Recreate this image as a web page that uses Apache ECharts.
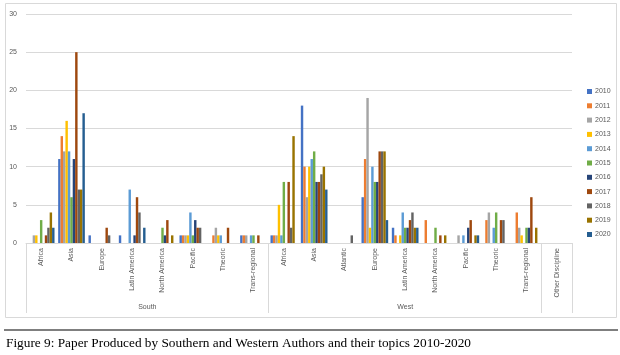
<!DOCTYPE html>
<html><head><meta charset="utf-8">
<script src="https://cdn.jsdelivr.net/npm/echarts@6/dist/echarts.min.js"></script>
<style>html,body{margin:0;padding:0;background:#fff}#c{width:620px;height:355px}</style>
</head><body><div id="c"></div>
<script>
const categories = ['Africa','Asia','Europe','Latin America','North America','Pacific','Theoric','Trans-regional','Africa','Asia','Atlantic','Europe','Latin America','North America','Pacific','Theoric','Trans-regional','Other Discipline'];
const groupLabels = ['South','West',''];
const groupSizes = [8,9,1];
const years = ['2010','2011','2012','2013','2014','2015','2016','2017','2018','2019','2020'];
const v2010 = [0,11,1,1,0,1,0,1, 1,18,0,6,2,0,0,0,0,0];
const v2011 = [0,14,0,0,0,1,1,1, 1,10,0,11,1,3,0,3,4,0];
const v2012 = [1,12,0,0,0,1,2,1, 1,6,0,19,0,0,1,4,2,0];
const v2013 = [1,16,0,0,0,1,1,0, 5,10,0,2,1,0,0,0,1,0];
const v2014 = [0,12,0,7,0,4,1,1, 1,11,0,10,4,0,1,2,0,0];
const v2015 = [3,6,0,0,2,1,0,1, 8,12,0,8,2,2,0,4,2,0];
const v2016 = [0,11,0,1,1,3,0,0, 0,8,0,8,2,0,2,0,2,0];
const v2017 = [1,25,2,6,3,2,2,1, 8,8,0,12,3,1,3,3,6,0];
const v2018 = [2,7,1,4,0,2,0,0, 2,9,1,12,4,0,0,3,0,0];
const v2019 = [4,7,0,0,1,0,0,0, 14,10,0,12,2,1,1,0,2,0];
const v2020 = [2,17,0,2,0,0,0,0, 0,7,0,3,2,0,1,0,0,0];
const values = [v2010,v2011,v2012,v2013,v2014,v2015,v2016,v2017,v2018,v2019,v2020];
const colors = ['#4472C4','#ED7D31','#A5A5A5','#FFC000','#5B9BD5','#70AD47','#264478','#9E480E','#636363','#997300','#255E91'];

// second-level axis: half-category boundaries
const nHalf = categories.length * 2;
const halfCats = [];
for (let k = 0; k <= nHalf; k++) halfCats.push(String(k));
const sepIdx = [0];
const labelIdx = {};
let acc = 0;
groupSizes.forEach((s, g) => {
  labelIdx[acc + s] = groupLabels[g];
  acc += s * 2;
  sepIdx.push(acc);
});

const chart = echarts.init(document.getElementById('c'), null, {renderer: 'canvas'});
const axisTxt = {color: '#595959', fontSize: 7, fontFamily: 'Liberation Sans, Arial, sans-serif'};
chart.setOption({
  animation: false,
  color: colors,
  grid: {left: 26, right: 48, top: 14, bottom: 112, containLabel: false},
  legend: {
    orient: 'vertical', left: 582, top: 83,
    itemWidth: 5, itemHeight: 5, itemGap: 7.3,
    icon: 'rect',
    textStyle: Object.assign({}, axisTxt, {padding: [0, 0, 0, -2]}),
    data: years
  },
  xAxis: [
    {
      type: 'category', data: categories, position: 'bottom',
      axisLine: {lineStyle: {color: '#d9d9d9'}},
      axisTick: {show: false},
      axisLabel: Object.assign({}, axisTxt, {rotate: 90, margin: 5, interval: 0})
    },
    {
      type: 'category', data: halfCats, position: 'bottom', boundaryGap: false,
      axisLine: {show: false},
      axisTick: {show: true, length: 70, interval: (i) => sepIdx.indexOf(i) >= 0, lineStyle: {color: '#d9d9d9'}},
      axisLabel: Object.assign({}, axisTxt, {margin: 61, interval: (i) => labelIdx[i] !== undefined, formatter: (v, i) => labelIdx[i] || ''})
    }
  ],
  yAxis: {
    type: 'value', min: 0, max: 30, interval: 5,
    axisLine: {show: false}, axisTick: {show: false},
    splitLine: {lineStyle: {color: '#d9d9d9'}},
    axisLabel: Object.assign({}, axisTxt, {margin: 9})
  },
  series: years.map((y, j) => ({
    name: y, type: 'bar', data: values[j], xAxisIndex: 0,
    barGap: '0%', barCategoryGap: '12%'
  })),
  graphic: [
    {type: 'rect', shape: {x: 5.5, y: 3.5, width: 611, height: 314}, style: {fill: 'none', stroke: '#d9d9d9', lineWidth: 1}, silent: true, z: -1},
    {type: 'line', shape: {x1: 4, y1: 330, x2: 618, y2: 330}, style: {stroke: '#555', lineWidth: 1.5}},
    {type: 'text', left: 6, top: 337, style: {text: 'Figure 9: Paper Produced by Southern and Western Authors and their topics 2010-2020', font: '13.3px "Liberation Serif", "Times New Roman", serif', fill: '#000'}}
  ]
});
</script></body></html>
